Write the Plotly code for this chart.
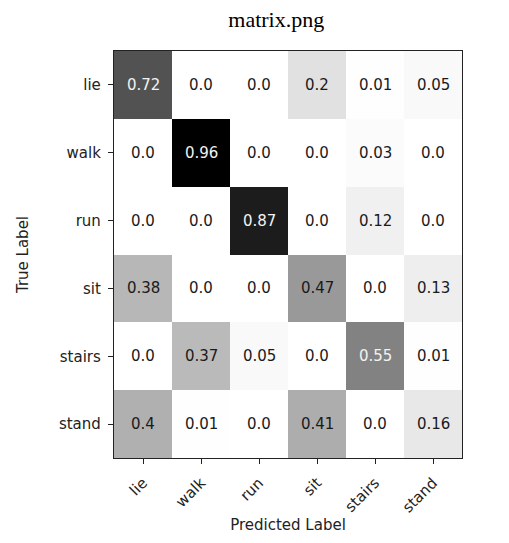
import plotly.graph_objects as go

labels = ["lie", "walk", "run", "sit", "stairs", "stand"]
values = [
    [0.72, 0.0, 0.0, 0.2, 0.01, 0.05],
    [0.0, 0.96, 0.0, 0.0, 0.03, 0.0],
    [0.0, 0.0, 0.87, 0.0, 0.12, 0.0],
    [0.38, 0.0, 0.0, 0.47, 0.0, 0.13],
    [0.0, 0.37, 0.05, 0.0, 0.55, 0.01],
    [0.4, 0.01, 0.0, 0.41, 0.0, 0.16],
]
title_text = "matrix.png"
x_title = "Predicted Label"
y_title = "True Label"

greys = [
    [0.0, "#ffffff"], [0.125, "#f0f0f0"], [0.25, "#d9d9d9"], [0.375, "#bdbdbd"],
    [0.5, "#969696"], [0.625, "#737373"], [0.75, "#525252"], [0.875, "#252525"],
    [1.0, "#000000"],
]

vmax = max(max(r) for r in values)
thresh = vmax / 2.0

fig = go.Figure(go.Heatmap(
    z=values, x=labels, y=labels, colorscale=greys, zmin=0, zmax=vmax,
    showscale=False, hoverinfo="skip",
))

annotations = []
for i, row in enumerate(values):
    for j, v in enumerate(row):
        annotations.append(dict(
            x=labels[j], y=labels[i], xref="x", yref="y", text=str(v),
            showarrow=False,
            font=dict(family="DejaVu Sans", size=15,
                      color="#f2f2f2" if v > thresh else "#1a1a1a"),
        ))

axis_common = dict(
    showline=True, linecolor="#222", linewidth=1.3, mirror=True,
    ticks="outside", ticklen=5, tickcolor="#222", tickwidth=1,
    ticklabelstandoff=4,
    tickfont=dict(family="DejaVu Sans", size=15, color="#222"),
    showgrid=False, zeroline=False,
)

fig.update_layout(
    width=509, height=543,
    margin=dict(l=106, r=55, t=43, b=93),
    paper_bgcolor="white", plot_bgcolor="white",
    title=dict(text=title_text, x=0.527, xanchor="center", y=0.98, yanchor="middle",
               font=dict(family="Liberation Serif", size=22, color="black")),
    annotations=annotations,
    xaxis=dict(axis_common, tickangle=-45,
               title=dict(text=x_title, standoff=3,
                          font=dict(family="DejaVu Sans", size=15, color="#222"))),
    yaxis=dict(axis_common, autorange="reversed",
               title=dict(text=y_title, standoff=26,
                          font=dict(family="DejaVu Sans", size=15, color="#222"))),
)

fig.write_html("out.html")
